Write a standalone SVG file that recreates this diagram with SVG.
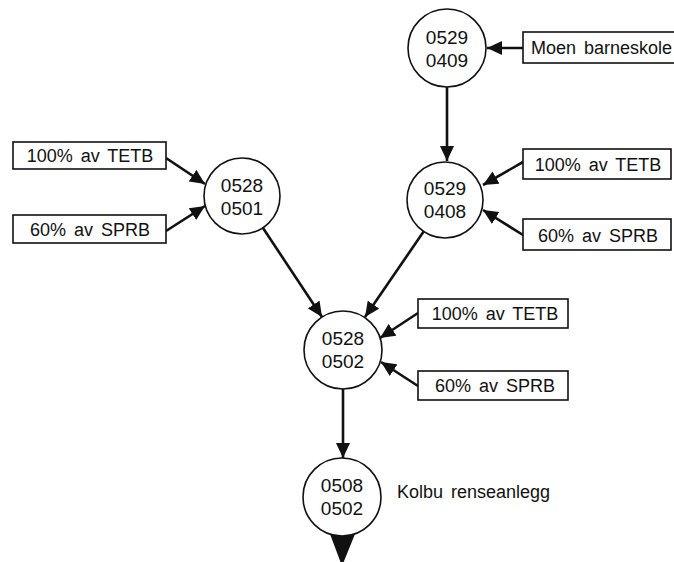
<svg xmlns="http://www.w3.org/2000/svg" width="674" height="562" viewBox="0 0 674 562">
<style>
.node{fill:#fff;stroke:#111;stroke-width:1.6}
.box{fill:#fff;stroke:#111;stroke-width:1.6}
.t{font-family:"Liberation Sans",Arial,sans-serif;font-size:19px;fill:#111;text-anchor:middle}
.bt{font-family:"Liberation Sans",Arial,sans-serif;font-size:18px;fill:#111;text-anchor:middle;word-spacing:3px}
.lt{font-family:"Liberation Sans",Arial,sans-serif;font-size:18px;fill:#111;word-spacing:3px}
.c{stroke:#111;stroke-width:2.6;fill:none;marker-end:url(#ah)}
</style>
<defs>
<marker id="ah" markerUnits="userSpaceOnUse" markerWidth="16" markerHeight="14" refX="15" refY="7" orient="auto">
<path d="M0,0 L15,7 L0,14 Z" fill="#111"/>
</marker>
</defs>
<rect width="674" height="562" fill="#fff"/>
<g id="connectors">
<line class="c" x1="523" y1="48" x2="487" y2="48"/>
<line class="c" x1="447" y1="87" x2="447" y2="161"/>
<line class="c" x1="166" y1="158" x2="205" y2="184"/>
<line class="c" x1="166" y1="231" x2="205" y2="206"/>
<line class="c" x1="523" y1="162" x2="483" y2="185"/>
<line class="c" x1="523" y1="235" x2="483" y2="210"/>
<line class="c" x1="263" y1="228" x2="322" y2="317"/>
<line class="c" x1="424" y1="231" x2="365" y2="317"/>
<line class="c" x1="418" y1="313" x2="380" y2="338"/>
<line class="c" x1="418" y1="386" x2="381" y2="362"/>
<line class="c" x1="343" y1="389" x2="343" y2="458"/>
<path d="M330,534 L355,534 L342,566 Z" fill="#111"/>
</g>
<g id="n0529_0409">
<circle class="node" cx="447" cy="48" r="39"/>
<text class="t" x="447" y="44">0529</text>
<text class="t" x="447" y="67">0409</text>
</g>
<g id="n0529_0408">
<circle class="node" cx="445" cy="200" r="38"/>
<text class="t" x="445" y="195">0529</text>
<text class="t" x="445" y="218">0408</text>
</g>
<g id="n0528_0501">
<circle class="node" cx="242" cy="196" r="38"/>
<text class="t" x="242" y="192">0528</text>
<text class="t" x="242" y="215">0501</text>
</g>
<g id="n0528_0502">
<circle class="node" cx="343" cy="350" r="39"/>
<text class="t" x="343" y="345">0528</text>
<text class="t" x="343" y="368">0502</text>
</g>
<g id="n0508_0502">
<circle class="node" cx="342" cy="497" r="39"/>
<text class="t" x="342" y="492">0508</text>
<text class="t" x="342" y="515">0502</text>
</g>
<g id="moen">
<rect class="box" x="523" y="32" width="170" height="31"/>
<text class="lt" x="531" y="54">Moen barneskole</text>
</g>
<g id="l_tetb">
<rect class="box" x="13" y="142" width="153" height="27"/>
<text class="bt" x="90" y="162">100% av TETB</text>
</g>
<g id="l_sprb">
<rect class="box" x="13" y="215" width="153" height="28"/>
<text class="bt" x="90" y="236">60% av SPRB</text>
</g>
<g id="r_tetb">
<rect class="box" x="523" y="149" width="148" height="30"/>
<text class="bt" x="598" y="171">100% av TETB</text>
</g>
<g id="r_sprb">
<rect class="box" x="523" y="219" width="148" height="31"/>
<text class="bt" x="598" y="242">60% av SPRB</text>
</g>
<g id="m_tetb">
<rect class="box" x="418" y="299" width="150" height="29"/>
<text class="bt" x="495" y="320">100% av TETB</text>
</g>
<g id="m_sprb">
<rect class="box" x="418" y="371" width="150" height="29"/>
<text class="bt" x="495" y="392">60% av SPRB</text>
</g>
<g id="kolbu">
<text class="lt" x="397" y="498">Kolbu renseanlegg</text>
</g>
</svg>
